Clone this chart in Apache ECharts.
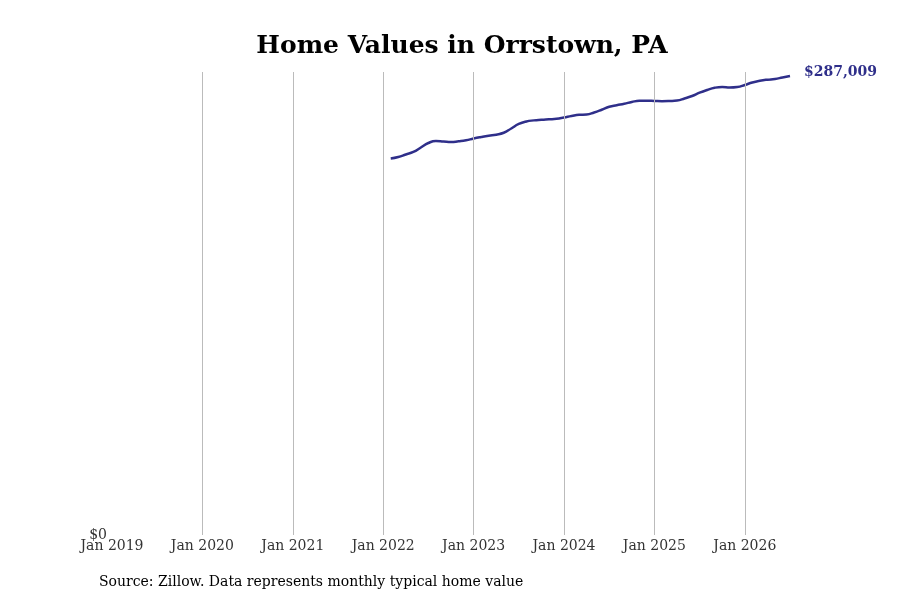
<!DOCTYPE html>
<html>
<head>
<meta charset="utf-8">
<script src="https://cdn.jsdelivr.net/npm/echarts@6/dist/echarts.min.js"></script>
<style>
html, body { margin: 0; padding: 0; background: #fff; }
#chart { width: 900px; height: 600px; }
</style>
</head>
<body>
<div id="chart"></div>
<script>
// months counted from Jan 2019 (0); first value is Feb 2022
var startMonth = 37;
var tickMonths = [0, 12, 24, 36, 48, 60, 72, 84];
var tickLabels = ['Jan 2019', 'Jan 2020', 'Jan 2021', 'Jan 2022', 'Jan 2023', 'Jan 2024', 'Jan 2025', 'Jan 2026'];
var gridMonths = [12, 24, 36, 48, 60, 72, 84];
var homeValues = [
	235425, 236363, 237927, 239490, 242304, 245118, 246368, 246056, 245743, 246181, 246806,
	247931, 248869, 249682, 250307, 251496, 254184, 256998, 258562, 259249, 259624, 259937, 260250,
	261063, 262001, 262751, 262939, 264189, 265878, 267754, 268754, 269629, 270755, 271505, 271505,
	271380, 271255, 271380, 271693, 272943, 274507, 276570, 278259, 279635, 280134, 279822, 280134,
	281385, 282948, 284011, 284699, 285137, 286075, 287009
];
var yMax = 289500;

var seriesData = [];
for (var i = 0; i < homeValues.length; i++) {
	seriesData.push([startMonth + i, homeValues[i]]);
}

var lineColor = '#2f2f8a';
var serif = 'DejaVu Serif';

var chart = echarts.init(document.getElementById('chart'));
var option = {
	animation: false,
	backgroundColor: '#fff',
	title: {
		text: 'Home Values in Orrstown, PA',
		left: 457,
		top: 29,
		textAlign: 'center',
		textStyle: { fontFamily: serif, fontSize: 25, fontWeight: 'bold', color: '#000' }
	},
	grid: { left: 112, right: 110, top: 72, bottom: 65 },
	xAxis: {
		type: 'value',
		min: 0,
		max: 90,
		interval: 12,
		axisLine: { show: false },
		axisTick: { show: false },
		splitLine: { show: false },
		axisLabel: {
			margin: 4,
			fontFamily: serif,
			fontSize: 14,
			color: '#333',
			showMaxLabel: false,
			formatter: function(v) {
				var k = tickMonths.indexOf(v);
				return k >= 0 ? tickLabels[k] : '';
			}
		}
	},
	yAxis: {
		type: 'value',
		min: 0,
		max: yMax,
		interval: yMax,
		axisLine: { show: false },
		axisTick: { show: false },
		splitLine: { show: false },
		axisLabel: {
			margin: 5,
			fontFamily: serif,
			fontSize: 14,
			color: '#333',
			formatter: function(v) { return v === 0 ? '$0' : ''; }
		}
	},
	series: [{
		type: 'line',
		data: seriesData,
		smooth: true,
		showSymbol: false,
		lineStyle: { color: lineColor, width: 2.5 },
		endLabel: {
			show: true,
			distance: 14,
			offset: [0, -4],
			fontFamily: serif,
			fontSize: 14,
			fontWeight: 'bold',
			color: lineColor,
			formatter: function(p) { return '$' + p.value[1].toLocaleString('en-US'); }
		},
		markLine: {
			silent: true,
			symbol: 'none',
			label: { show: false },
			lineStyle: { color: '#bbb', width: 1, type: 'solid' },
			data: gridMonths.map(function(m) { return { xAxis: m }; })
		},
		z: 3
	}],
	graphic: [{
		type: 'text',
		left: 99,
		top: 575,
		style: {
			text: 'Source: Zillow. Data represents monthly typical home value',
			font: '14px "DejaVu Serif"',
			fill: '#000'
		}
	}]
};
chart.setOption(option);
</script>
</body>
</html>
